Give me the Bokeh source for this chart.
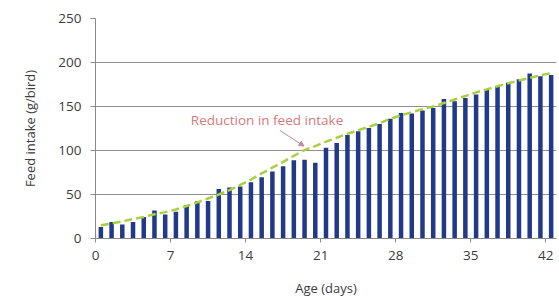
from bokeh.plotting import figure
from bokeh.models import Range1d, FixedTicker, Label, Arrow, NormalHead, ColumnDataSource
from bokeh.embed import file_html
from bokeh.resources import INLINE

# ---- data ----
days = list(range(43))
intake = [13, 18.7, 16, 18.7, 24.3, 31.9, 27.2, 30.5, 38, 42.2,
          42.5, 56.2, 58, 59, 64, 69.5, 76, 82, 89, 89.4,
          86, 103, 108.5, 117.5, 122, 125.7, 130.1, 136, 142.6, 142,
          145.5, 148.2, 158.5, 156, 159.8, 163.6, 169, 173, 177, 181,
          187.6, 184.3, 185.8]
trend = [15, 17, 19.5, 22, 24.5, 27.5, 30, 33, 37, 41,
         45.5, 50, 55, 61, 67, 74, 80.5, 87, 94, 100.5,
         105, 110, 114.5, 119, 123, 127, 131, 136, 140, 143.5,
         147, 150, 154, 158, 162, 166, 169.5, 173, 176.5, 179.5,
         182.5, 185.5, 188]
x_ticks = [0, 7, 14, 21, 28, 35, 42]
y_ticks = [0, 50, 100, 150, 200, 250]

xs = [d + 0.5 for d in days]
src = ColumnDataSource(dict(x=xs, intake=intake, trend=trend))

FONT = "Open Sans"
TXT = "#3c3c3c"

p = figure(width=558, height=299, output_backend="svg", toolbar_location=None,
           x_range=Range1d(0, 43), y_range=Range1d(0, 250))
p.min_border_left = 95
p.min_border_right = 2
p.min_border_top = 18
p.min_border_bottom = 61
p.outline_line_color = None
p.background_fill_color = "white"
p.border_fill_color = "white"

p.vbar(x="x", top="intake", width=0.42, source=src, fill_color="#22398a",
       line_color=None)
p.line(x="x", y="trend", source=src, line_color="#a9d13f", line_width=2.5,
       line_dash="8 4")

# grid
p.xgrid.grid_line_color = None
p.ygrid.grid_line_color = "#8f8f8f"
p.ygrid.grid_line_width = 1
p.ygrid.ticker = FixedTicker(ticks=y_ticks)

# axes
for ax in (p.xaxis[0], p.yaxis[0]):
    ax.axis_line_color = "#8a8a8a"
    ax.major_tick_line_color = "#8a8a8a"
    ax.minor_tick_line_color = None
    ax.major_tick_in = 0
    ax.major_tick_out = 4
    ax.major_label_text_font = FONT
    ax.major_label_text_font_size = "13.5px"
    ax.major_label_text_color = TXT
    ax.axis_label_text_font = FONT
    ax.axis_label_text_font_size = "13px"
    ax.axis_label_text_font_style = "normal"
    ax.axis_label_text_color = TXT

p.xaxis.ticker = FixedTicker(ticks=x_ticks)
p.yaxis.ticker = FixedTicker(ticks=y_ticks)
p.xaxis.axis_label = "Age (days)"
p.yaxis.axis_label = "Feed intake (g/bird)"
p.xaxis.major_label_standoff = 8
p.xaxis.axis_label_standoff = 16
p.yaxis.major_tick_out = 5
p.yaxis.major_label_standoff = 9
p.yaxis.axis_label_standoff = 16

# annotation
p.add_layout(Label(x=16.0, y=135, text="Reduction in feed intake",
                   text_align="center", text_baseline="middle",
                   text_color="#d77a7a", text_font=FONT, text_font_size="13.5px"))
p.add_layout(Arrow(end=NormalHead(size=5, line_color="#c88a9a", fill_color="#c88a9a",
                                  line_width=1),
                   x_start=17.2, y_start=122.7, x_end=19.45, y_end=105,
                   line_color="#c88a9a", line_width=1))

open("out.html", "w").write(file_html(p, INLINE))
